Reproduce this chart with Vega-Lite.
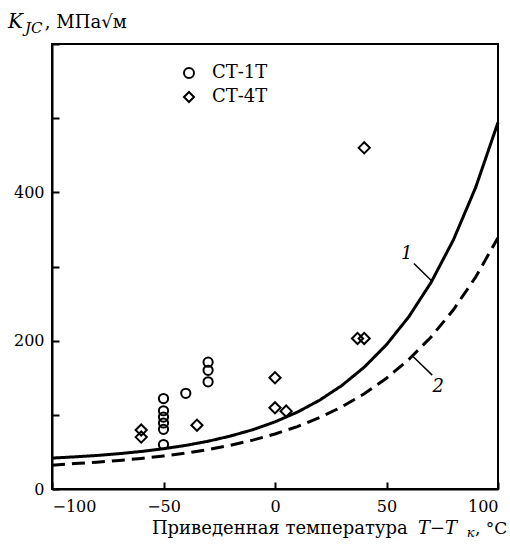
{
  "$schema": "https://vega.github.io/schema/vega-lite/v6.json",
  "autosize": "none",
  "width": 446,
  "height": 445,
  "padding": {"left": 52, "top": 44, "right": 12, "bottom": 55},
  "background": "white",
  "config": {
    "view": {"stroke": "black", "strokeWidth": 2},
    "axis": {
      "domainColor": "black", "domainWidth": 2, "tickColor": "black", "tickWidth": 2,
      "tickSize": -7, "labelFont": "DejaVu Serif", "labelFontSize": 16, "labelColor": "black",
      "grid": false, "title": null
    },
    "legend": {"labelFont": "DejaVu Serif", "labelFontSize": 18, "labelColor": "black"}
  },
  "datasets": {
    "points": [
      {"t": -50, "k": 122, "steel": "СТ-1Т"},
      {"t": -50, "k": 105.5, "steel": "СТ-1Т"},
      {"t": -50, "k": 97, "steel": "СТ-1Т"},
      {"t": -50, "k": 89, "steel": "СТ-1Т"},
      {"t": -50, "k": 80.5, "steel": "СТ-1Т"},
      {"t": -50, "k": 60, "steel": "СТ-1Т"},
      {"t": -40, "k": 129, "steel": "СТ-1Т"},
      {"t": -30, "k": 171, "steel": "СТ-1Т"},
      {"t": -30, "k": 160, "steel": "СТ-1Т"},
      {"t": -30, "k": 144.5, "steel": "СТ-1Т"},
      {"t": -60, "k": 79.5, "steel": "СТ-4Т"},
      {"t": -60, "k": 70, "steel": "СТ-4Т"},
      {"t": -35, "k": 86, "steel": "СТ-4Т"},
      {"t": 0, "k": 150, "steel": "СТ-4Т"},
      {"t": 0, "k": 109.5, "steel": "СТ-4Т"},
      {"t": 5, "k": 105, "steel": "СТ-4Т"},
      {"t": 40, "k": 460, "steel": "СТ-4Т"},
      {"t": 37, "k": 203, "steel": "СТ-4Т"},
      {"t": 40, "k": 203, "steel": "СТ-4Т"}
    ],
    "curves": [
      {"t": -100, "k": 41.7, "curve": "1"}, {"t": -90, "k": 43.3, "curve": "1"},
      {"t": -80, "k": 45.2, "curve": "1"}, {"t": -70, "k": 47.6, "curve": "1"},
      {"t": -60, "k": 50.6, "curve": "1"}, {"t": -50, "k": 54.3, "curve": "1"},
      {"t": -40, "k": 58.8, "curve": "1"}, {"t": -30, "k": 64.4, "curve": "1"},
      {"t": -20, "k": 71.4, "curve": "1"}, {"t": -10, "k": 79.9, "curve": "1"},
      {"t": 0, "k": 90.5, "curve": "1"}, {"t": 10, "k": 103.6, "curve": "1"},
      {"t": 20, "k": 119.7, "curve": "1"}, {"t": 30, "k": 139.6, "curve": "1"},
      {"t": 40, "k": 164.2, "curve": "1"}, {"t": 50, "k": 194.6, "curve": "1"},
      {"t": 60, "k": 232.2, "curve": "1"}, {"t": 70, "k": 278.6, "curve": "1"},
      {"t": 80, "k": 335.9, "curve": "1"}, {"t": 90, "k": 406.7, "curve": "1"},
      {"t": 100, "k": 494.2, "curve": "1"},
      {"t": -100, "k": 32.0, "curve": "2"}, {"t": -90, "k": 34.3, "curve": "2"},
      {"t": -80, "k": 36.2, "curve": "2"}, {"t": -70, "k": 38.4, "curve": "2"},
      {"t": -60, "k": 41.2, "curve": "2"}, {"t": -50, "k": 44.5, "curve": "2"},
      {"t": -40, "k": 48.4, "curve": "2"}, {"t": -30, "k": 53.2, "curve": "2"},
      {"t": -20, "k": 59.0, "curve": "2"}, {"t": -10, "k": 65.9, "curve": "2"},
      {"t": 0, "k": 74.2, "curve": "2"}, {"t": 10, "k": 84.2, "curve": "2"},
      {"t": 20, "k": 96.3, "curve": "2"}, {"t": 30, "k": 110.8, "curve": "2"},
      {"t": 40, "k": 128.3, "curve": "2"}, {"t": 50, "k": 149.3, "curve": "2"},
      {"t": 60, "k": 174.6, "curve": "2"}, {"t": 70, "k": 205.0, "curve": "2"},
      {"t": 80, "k": 241.7, "curve": "2"}, {"t": 90, "k": 285.8, "curve": "2"},
      {"t": 100, "k": 338.9, "curve": "2"}
    ],
    "leaders": [
      {"t": 62.3, "k": 304, "t2": 70.3, "k2": 280.5},
      {"t": 62.0, "k": 178.2, "t2": 70.5, "k2": 153.5}
    ],
    "curveLabels": [
      {"t": 59.1, "k": 317.4, "label": "1"},
      {"t": 73.2, "k": 137.8, "label": "2"}
    ],
    "titleNormal": [
      {"t": -103.2, "k": 622.2, "text": ", МПа√м", "size": 18},
      {"t": -55.2, "k": -60.6, "text": "Приведенная температура", "size": 18},
      {"t": 89.7, "k": -60.6, "text": ", °C", "size": 17}
    ],
    "titleItalic": [
      {"t": -119.7, "k": 622.2, "text": "K", "size": 20},
      {"t": -112.1, "k": 614.2, "text": "JC", "size": 15},
      {"t": 64.1, "k": -60.6, "text": "T−T", "size": 18},
      {"t": 86.0, "k": -64.6, "text": "к", "size": 13}
    ]
  },
  "layer": [
    {
      "data": {"name": "curves"},
      "mark": {"type": "line", "color": "black", "strokeWidth": 3},
      "encoding": {
        "x": {"field": "t", "type": "quantitative",
              "scale": {"domain": [-100, 100], "nice": false, "zero": false},
              "axis": {"values": [-100, -50, 0, 50, 100], "labelPadding": 16}},
        "y": {"field": "k", "type": "quantitative",
              "scale": {"domain": [0, 600], "nice": false},
              "axis": {"values": [0, 100, 200, 300, 400, 500, 600], "labelPadding": 15,
                       "labelExpr": "datum.value % 200 === 0 && datum.value < 600 ? datum.label : ''"}},
        "detail": {"field": "curve"},
        "strokeDash": {"field": "curve", "type": "nominal",
                       "scale": {"domain": ["1", "2"], "range": [[1, 0], [13, 7]]}, "legend": null}
      }
    },
    {
      "data": {"name": "points"},
      "transform": [{"filter": "datum.steel === 'СТ-1Т'"}],
      "mark": {"type": "point", "filled": false, "color": "black", "strokeWidth": 2, "opacity": 1, "size": 85},
      "encoding": {
        "x": {"field": "t", "type": "quantitative"},
        "y": {"field": "k", "type": "quantitative"},
        "shape": {"field": "steel", "type": "nominal",
                  "scale": {"domain": ["СТ-1Т", "СТ-4Т"], "range": ["circle", "diamond"]},
                  "legend": {"title": null, "orient": "none", "legendX": 128, "legendY": 20,
                             "rowPadding": 6, "labelOffset": 14, "symbolStrokeWidth": 2,
                             "symbolStrokeColor": "black", "symbolFillColor": "transparent",
                             "symbolSize": 100, "symbolType": "circle"}}
      }
    },
    {
      "data": {"name": "points"},
      "transform": [{"filter": "datum.steel === 'СТ-4Т'"}],
      "mark": {"type": "point", "filled": false, "color": "black", "strokeWidth": 2, "opacity": 1, "size": 125},
      "encoding": {
        "x": {"field": "t", "type": "quantitative"},
        "y": {"field": "k", "type": "quantitative"},
        "shape": {"field": "steel", "type": "nominal"}
      }
    },
    {
      "data": {"name": "leaders"},
      "mark": {"type": "rule", "color": "black", "strokeWidth": 1.5},
      "encoding": {
        "x": {"field": "t", "type": "quantitative"},
        "y": {"field": "k", "type": "quantitative"},
        "x2": {"field": "t2"},
        "y2": {"field": "k2"}
      }
    },
    {
      "data": {"name": "curveLabels"},
      "mark": {"type": "text", "font": "DejaVu Serif", "fontStyle": "italic", "fontSize": 18,
               "color": "black", "align": "center", "baseline": "middle"},
      "encoding": {
        "x": {"field": "t", "type": "quantitative"},
        "y": {"field": "k", "type": "quantitative"},
        "text": {"field": "label"}
      }
    },
    {
      "data": {"name": "titleNormal"},
      "mark": {"type": "text", "font": "DejaVu Serif", "color": "black", "baseline": "alphabetic", "align": "left"},
      "encoding": {
        "x": {"field": "t", "type": "quantitative"},
        "y": {"field": "k", "type": "quantitative"},
        "text": {"field": "text"},
        "size": {"field": "size", "type": "quantitative", "scale": null}
      }
    },
    {
      "data": {"name": "titleItalic"},
      "mark": {"type": "text", "font": "DejaVu Serif", "fontStyle": "italic", "color": "black",
               "baseline": "alphabetic", "align": "left"},
      "encoding": {
        "x": {"field": "t", "type": "quantitative"},
        "y": {"field": "k", "type": "quantitative"},
        "text": {"field": "text"},
        "size": {"field": "size", "type": "quantitative", "scale": null}
      }
    }
  ]
}
